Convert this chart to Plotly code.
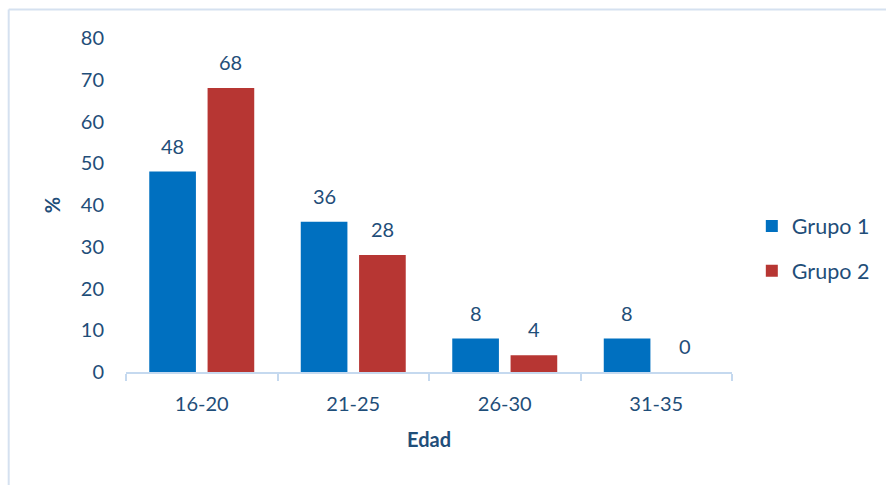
import plotly.graph_objects as go

# Age groups and percentage per group
categories = ["16-20", "21-25", "26-30", "31-35"]
grupo1 = [48, 36, 8, 8]
grupo2 = [68, 28, 4, 0]
series_names = ["Grupo 1", "Grupo 2"]
y_ticks = [0, 10, 20, 30, 40, 50, 60, 70, 80]

W, H = 886, 485
ML, MR, MT, MB = 126, 153, 38, 113
BARGAP = 0.23
TEXT = "#1F4E79"
FONT = "Lato, Open Sans, sans-serif"
BLUE = "#0070C0"
RED = "#B73633"

fig = go.Figure()
fig.add_trace(go.Bar(x=categories, y=grupo1, name=series_names[0],
                     marker=dict(color=BLUE, line=dict(width=0)),
                     legendgroup="g1"))
fig.add_trace(go.Bar(x=categories, y=grupo2, name=series_names[1],
                     marker=dict(color=RED, line=dict(width=0)),
                     legendgroup="g2"))

# value labels above each bar, shifted to the bar's slot within the group
plot_w = W - ML - MR
cat_px = plot_w / len(categories)
offset_px = (1 - BARGAP) / 4 * cat_px
annotations = []
for vals, sign in ((grupo1, -1), (grupo2, 1)):
    for c, v in zip(categories, vals):
        annotations.append(dict(x=c, y=v, xref="x", yref="y", text=str(v),
                                showarrow=False, xshift=sign * offset_px,
                                yanchor="bottom", yshift=12,
                                font=dict(size=20, color=TEXT, family=FONT)))

# light frame along the left and top edges
fx = (8.5 - ML) / plot_w
fy = 1 + (MT - 9.5) / (H - MT - MB)
shapes = [
    dict(type="line", xref="paper", yref="paper", x0=fx, x1=fx, y0=fy, y1=-1,
         line=dict(color="#D5E1F0", width=2)),
    dict(type="line", xref="paper", yref="paper", x0=fx, x1=2, y0=fy, y1=fy,
         line=dict(color="#D5E1F0", width=2)),
]

fig.update_layout(
    width=W, height=H,
    margin=dict(l=ML, r=MR, t=MT, b=MB),
    paper_bgcolor="white", plot_bgcolor="white",
    barmode="group", bargap=BARGAP, bargroupgap=0.2,
    font=dict(family=FONT, size=20, color=TEXT),
    showlegend=True,
    legend=dict(x=1.031, xanchor="left", y=0.37, yanchor="middle",
                traceorder="grouped", tracegroupgap=14,
                font=dict(size=21.5, color=TEXT, family=FONT)),
    annotations=annotations,
    shapes=shapes,
)
fig.update_xaxes(
    type="category", showline=True, linecolor="#C5D9EF", linewidth=2,
    ticks="outside", tickson="boundaries", tickcolor="#C5D9EF", ticklen=7,
    tickwidth=2, showgrid=False, ticklabelstandoff=13,
    tickfont=dict(size=20, color=TEXT, family=FONT),
    title=dict(text="<b>Edad</b>", font=dict(size=20, color=TEXT, family=FONT),
               standoff=19),
)
fig.update_yaxes(
    range=[0, 80], tickvals=y_ticks, showgrid=False, zeroline=False,
    showline=False, ticks="", ticklabelstandoff=21,
    tickfont=dict(size=20, color=TEXT, family=FONT),
    title=dict(text="<b>%</b>", font=dict(size=20, color=TEXT, family=FONT),
               standoff=14),
)

fig.write_html("out.html")
